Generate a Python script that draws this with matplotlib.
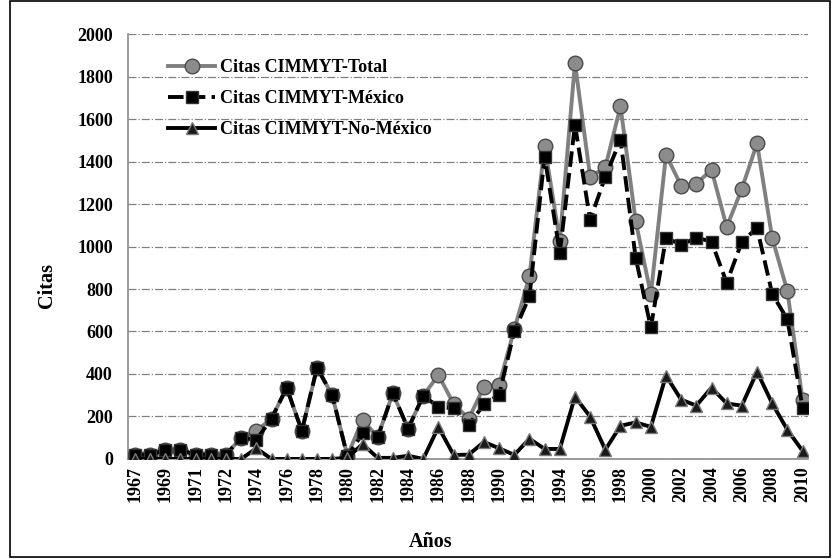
import numpy as np
import matplotlib
matplotlib.use('Agg')
import matplotlib.pyplot as plt
from matplotlib.patches import Rectangle

plt.rcParams['font.family'] = ['Liberation Serif', 'DejaVu Serif']
plt.rcParams['font.weight'] = 'bold'

# categories (the source sheet has 1971 twice)
years = [str(y) for y in range(1967, 1972)] + [str(y) for y in range(1971, 2011)]

total = [20, 20, 42, 42, 20, 20, 20, 100, 132, 190, 335, 132, 430, 300, 15,
         184, 103, 309, 142, 298, 395, 260, 189, 340, 349, 610, 860, 1475,
         1026, 1864, 1328, 1373, 1660, 1120, 775, 1432, 1286, 1295, 1362,
         1092, 1272, 1486, 1040, 790, 279]
mexico = [20, 20, 42, 42, 20, 20, 20, 100, 90, 190, 335, 132, 430, 300, 12,
          120, 103, 309, 142, 298, 245, 238, 160, 257, 302, 600, 766, 1423,
          970, 1573, 1125, 1328, 1503, 947, 619, 1042, 1007, 1042, 1023,
          829, 1023, 1087, 777, 657, 241]
no_mexico = [0, 0, 0, 0, 0, 0, 0, 0, 50, 0, 0, 0, 0, 0, 5,
             70, 5, 5, 15, 0, 150, 19, 20, 80, 50, 19, 95, 47,
             47, 293, 199, 43, 156, 172, 151, 392, 279, 251, 336,
             261, 251, 411, 261, 137, 38]

labels = ['Citas CIMMYT-Total', 'Citas CIMMYT-México', 'Citas CIMMYT-No-México']

fig = plt.figure(figsize=(8.32, 5.59), dpi=100)
ax = fig.add_axes([0.154, 0.1790, 0.817, 0.7600])

x = np.arange(len(years))

ax.plot(x, total, color='#808080', lw=2.8, marker='o', ms=10.5,
        mfc='#8c8c8c', mec='#4a4a4a', mew=1.0, label=labels[0], zorder=3)
ax.plot(x, mexico, color='black', lw=2.8, ls=(0, (4, 1.6)), marker='s', ms=8.5,
        mfc='black', mec='#333333', label=labels[1], zorder=4)
ax.plot(x, no_mexico, color='black', lw=2.8, marker='^', ms=9,
        mfc='#1a1a1a', mec='#7a7a7a', mew=1.0, label=labels[2], zorder=5)

ax.set_xlim(-0.45, len(years) - 0.65)
ax.set_ylim(0, 2000)
ax.set_yticks(np.arange(0, 2001, 200))
ax.set_xticks(x[::2])
ax.set_xticklabels(years[::2], rotation=90, fontsize=13, fontweight='bold')
for t in ax.get_yticklabels():
    t.set_fontsize(13)
    t.set_fontweight('bold')
ax.tick_params(axis='y', length=0, pad=11)
ax.tick_params(axis='x', length=0, pad=5)

ax.grid(axis='y', color='#808080', ls='-.', lw=0.9, zorder=0)
ax.set_axisbelow(True)
for s in ['top', 'right']:
    ax.spines[s].set_visible(False)
for s in ['left', 'bottom']:
    ax.spines[s].set_color('#8a8a8a')
    ax.spines[s].set_linewidth(1.2)

leg = ax.legend(loc='upper left', bbox_to_anchor=(0.035, 0.98), frameon=False,
                prop={'family': 'Liberation Serif', 'weight': 'bold', 'size': 13},
                handlelength=2.6, handletextpad=0.25, labelspacing=0.78)

fig.text(0.056, 0.49, 'Citas', rotation=90, fontsize=14.5, fontweight='bold',
         ha='center', va='center')
fig.text(0.517, 0.031, 'Años', fontsize=14.5, fontweight='bold',
         ha='center', va='center')

fig.patches.append(Rectangle((0.012, 0.003), 0.985, 0.995, transform=fig.transFigure,
                             fill=False, edgecolor='black', lw=1.2))

fig.savefig('out.png', dpi=100)
